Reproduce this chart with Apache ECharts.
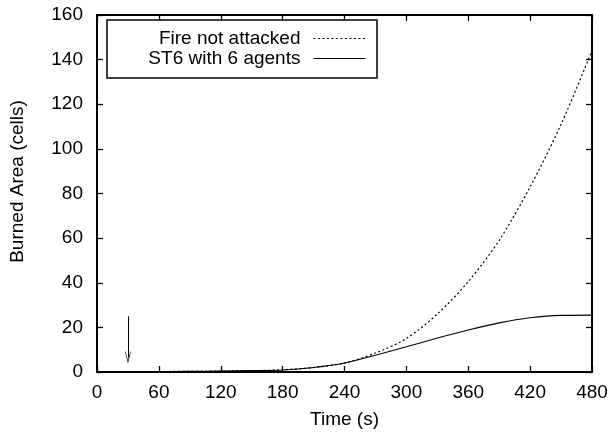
<!doctype html>
<html lang="en">
<head>
<meta charset="UTF-8" />
<title>Burned area</title>
<script src="https://cdn.jsdelivr.net/npm/echarts@6/dist/echarts.min.js"></script>
<style>
  html, body { margin: 0; padding: 0; background: #fff; }
  #chart { width: 611px; height: 436px; }
</style>
</head>
<body>
<div id="chart"></div>
<script>
  // time in seconds
  var times = [0, 30, 60, 90, 120, 150, 180, 210, 240, 270, 300, 330, 360, 390, 420, 450, 480];
  // burned area, cells
  var notAttacked = [0.1, 0.1, 0.2, 0.3, 0.4, 0.6, 1.0, 2.0, 4.0, 8.5, 15, 26, 40.5, 59, 83, 111, 144];
  var st6 = [0.1, 0.1, 0.2, 0.3, 0.4, 0.6, 0.9, 2.0, 4.0, 7.5, 11.3, 15.2, 18.8, 22.0, 24.3, 25.4, 25.5];
  var xTicks = [0, 60, 120, 180, 240, 300, 360, 420, 480];
  var yTicks = [0, 20, 40, 60, 80, 100, 120, 140, 160];
  // attack start marker: [time, from, to]
  var attackArrow = [30, 25, 6.5];

  var font = 'Liberation Sans, Arial, sans-serif';
  var fs = 19;
  var dots = [2, 2.5];

  function pairs(ys) {
    return times.map(function (t, i) { return [t, ys[i]]; });
  }

  var chart = echarts.init(document.getElementById('chart'));

  var frame = { show: true, onZero: false, lineStyle: { color: '#000', width: 2 } };
  var ticks = { show: true, inside: true, length: 6, lineStyle: { color: '#000', width: 1.3 } };
  var txt = { fontFamily: font, fontSize: fs, color: '#000' };

  function legendFor(name, top, dash) {
    return {
      data: [name],
      right: 245, top: top, align: 'right', padding: 0,
      itemWidth: 52, itemHeight: 14,
      itemStyle: { color: 'rgba(0,0,0,0)', borderWidth: 0 },
      lineStyle: { color: '#000', width: 1.1, type: dash },
      textStyle: { fontFamily: font, fontSize: fs, color: '#000', padding: [0, 8, 0, 0] }
    };
  }

  var option = {
    animation: false,
    backgroundColor: '#fff',
    grid: { left: 97, right: 19, top: 15, bottom: 64 },
    xAxis: [{
      type: 'value',
      min: xTicks[0], max: xTicks[xTicks.length - 1], interval: 60,
      name: 'Time (s)', nameLocation: 'middle', nameGap: 38,
      nameTextStyle: txt,
      axisLine: frame, axisTick: ticks,
      axisLabel: { fontFamily: font, fontSize: fs, color: '#000', margin: 11 },
      splitLine: { show: false }
    }, {
      type: 'value', position: 'top',
      min: xTicks[0], max: xTicks[xTicks.length - 1], interval: 60,
      axisLine: frame, axisTick: ticks,
      axisLabel: { show: false }, splitLine: { show: false }
    }],
    yAxis: [{
      type: 'value',
      min: yTicks[0], max: yTicks[yTicks.length - 1], interval: 20,
      name: 'Burned Area (cells)', nameLocation: 'middle', nameGap: 70,
      nameTextStyle: { fontFamily: font, fontSize: fs, color: '#000', padding: [0, 0, 0, 24] },
      axisLine: frame, axisTick: ticks,
      axisLabel: { fontFamily: font, fontSize: fs, color: '#000', margin: 14 },
      splitLine: { show: false }
    }, {
      type: 'value', position: 'right',
      min: yTicks[0], max: yTicks[yTicks.length - 1], interval: 20,
      axisLine: frame, axisTick: ticks,
      axisLabel: { show: false }, splitLine: { show: false }
    }],
    legend: [
      legendFor('Fire not attacked', 29, dots),
      legendFor('ST6 with 6 agents', 49, 'solid')
    ],
    graphic: [{
      type: 'rect',
      shape: { x: 107, y: 20, width: 270, height: 58 },
      style: { fill: 'none', stroke: '#000', lineWidth: 1.5 },
      z: 10
    }],
    series: [{
      name: 'Fire not attacked',
      type: 'line', smooth: 0.3, symbol: 'none',
      data: pairs(notAttacked),
      lineStyle: { color: '#000', width: 1.2, type: dots },
      itemStyle: { color: '#000' }
    }, {
      name: 'ST6 with 6 agents',
      type: 'line', smooth: 0.3, symbol: 'none',
      data: pairs(st6),
      lineStyle: { color: '#000', width: 1.1 },
      itemStyle: { color: '#000' },
      markLine: {
        silent: true,
        symbol: ['none', 'path://M5,0 L10,12 L9,12 L5,3 L1,12 L0,12 Z'],
        symbolSize: [6, 12],
        label: { show: false },
        lineStyle: { color: '#000', width: 1, type: 'solid' },
        data: [[
          { coord: [attackArrow[0], attackArrow[1]] },
          { coord: [attackArrow[0], attackArrow[2]] }
        ]]
      }
    }]
  };

  chart.setOption(option);
</script>
</body>
</html>
